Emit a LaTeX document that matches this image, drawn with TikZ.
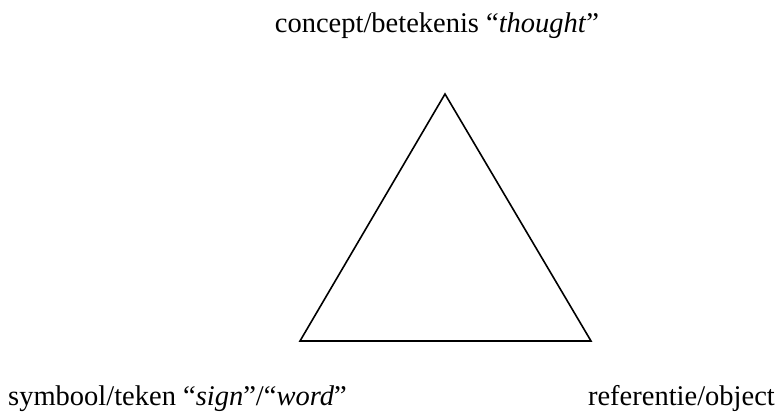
\documentclass[tikz,border=0pt]{standalone}
\usepackage{fontspec}
\setmainfont{Liberation Serif}[ItalicFont={Liberation Serif Italic}]
\usetikzlibrary{positioning}

\begin{document}
\begin{tikzpicture}[x=1pt, y=-1pt,
        lbl/.style={inner sep=0pt, font=\fontsize{28.5}{32}\selectfont},
        side/.style={line width=1.6pt, line join=miter}]
      \useasboundingbox (0,0) rectangle (779,417);
      % corners of the triangle
      \coordinate (apex) at (445,94);
      \coordinate (left) at (300,341);
      \coordinate (right) at (591,341);
      \draw[side] (apex) -- (left) -- (right) -- cycle;
      % the three labels
      \node[lbl, anchor=base] (concept) at (437,33) {concept/betekenis “\textit{thought}”};
      \node[lbl, anchor=base west] (symbol) at (8,405) {symbool/teken “\textit{sign}”/“\textit{word}”};
      \node[lbl, anchor=base east] (referent) at (775,405) {referentie/object};
\end{tikzpicture}
\end{document}
